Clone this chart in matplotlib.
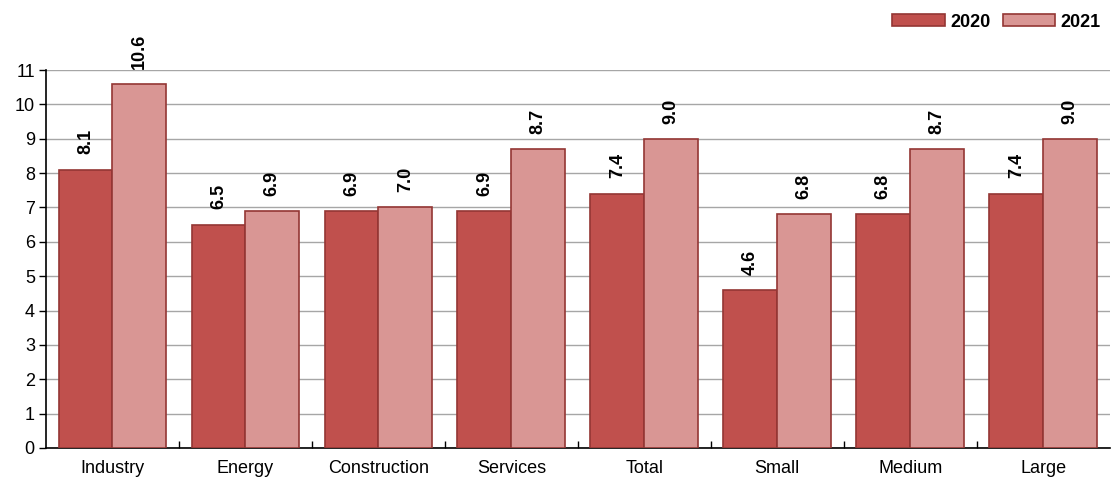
import matplotlib
matplotlib.use("Agg")
import matplotlib.pyplot as plt
import numpy as np

categories = ["Industry", "Energy", "Construction", "Services", "Total", "Small", "Medium", "Large"]
values_2020 = [8.1, 6.5, 6.9, 6.9, 7.4, 4.6, 6.8, 7.4]
values_2021 = [10.6, 6.9, 7.0, 8.7, 9.0, 6.8, 8.7, 9.0]
series_labels = ["2020", "2021"]
y_ticks = list(range(0, 12))

plt.rcParams["font.family"] = ["Liberation Sans", "DejaVu Sans"]

fig = plt.figure(figsize=(11.13, 4.8), dpi=100)
ax = fig.add_axes([0.0413, 0.0667, 0.9557, 0.7873])

x = np.arange(len(categories))
w = 0.405
c2020 = "#C0504D"
c2021 = "#D99694"
edge = "#943634"

b1 = ax.bar(x - w / 2, values_2020, w, color=c2020, edgecolor=edge, linewidth=1.2,
            label=series_labels[0], zorder=3)
b2 = ax.bar(x + w / 2, values_2021, w, color=c2021, edgecolor=edge, linewidth=1.2,
            label=series_labels[1], zorder=3)

for bars, vals in ((b1, values_2020), (b2, values_2021)):
    for rect, v in zip(bars, vals):
        ax.annotate(f"{v:.1f}", (rect.get_x() + rect.get_width() / 2, rect.get_height()),
                    xytext=(0, 11), textcoords="offset points", rotation=90,
                    ha="center", va="bottom", fontsize=13, fontweight="bold")

ax.set_xlim(-0.5, len(categories) - 0.5)
ax.set_ylim(0, 11)
ax.set_yticks(y_ticks)
ax.yaxis.grid(True, color="#A6A6A6", linewidth=1, zorder=0)
ax.set_axisbelow(True)

ax.set_xticks(x)
ax.set_xticklabels(categories, fontsize=13)
ax.tick_params(axis="x", length=0, pad=8.5)
ax.set_xticks(np.arange(0.5, len(categories) - 0.5, 1), minor=True)
ax.tick_params(axis="x", which="minor", direction="in", length=5, width=1, color="black")
ax.tick_params(axis="y", direction="out", length=5, width=1, labelsize=13, pad=3)

for s in ("top", "right"):
    ax.spines[s].set_visible(False)
ax.spines["left"].set_linewidth(1.2)
ax.spines["bottom"].set_linewidth(1.2)

handles, labels = ax.get_legend_handles_labels()
fig.legend(handles, labels, loc="center right", bbox_to_anchor=(0.989, 0.954), ncol=2,
           frameon=False, prop={"weight": "bold", "size": 13}, handlelength=2.9,
           handleheight=0.6, columnspacing=0.7, handletextpad=0.3, borderpad=0,
           borderaxespad=0)

fig.savefig("out.png", dpi=100)
